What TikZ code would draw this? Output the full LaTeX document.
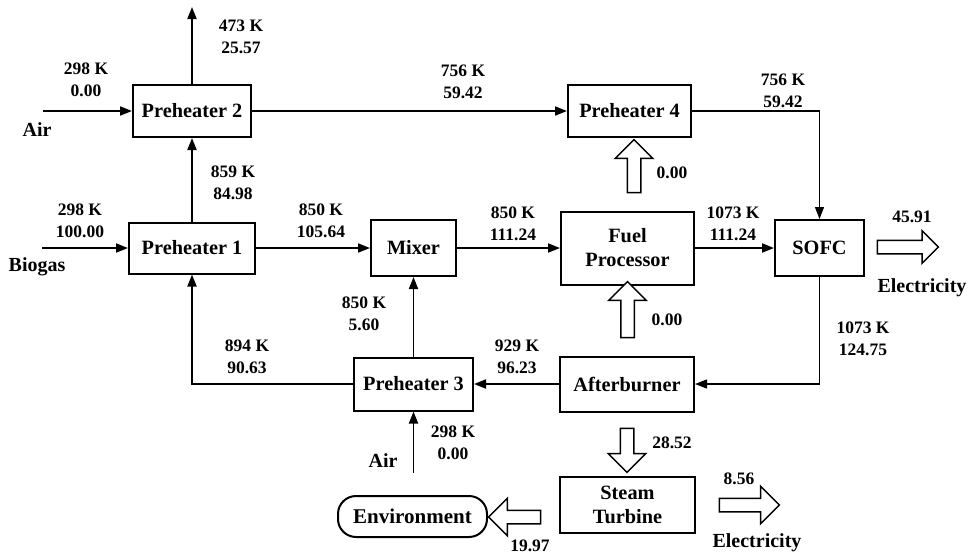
\documentclass[tikz,border=0pt]{standalone}
\usepackage{fontspec}
\setmainfont{Liberation Serif}
\usetikzlibrary{arrows.meta,shapes.arrows}
\begin{document}
\begin{tikzpicture}[x=1pt,y=-1pt,
 box/.style={draw,line width=2pt,align=center,inner sep=0pt,font=\fontsize{20.3}{24}\selectfont\bfseries},
 lbl/.style={align=center,inner sep=0pt,font=\fontsize{17.5}{22}\selectfont\bfseries},
 side/.style={inner sep=0pt,font=\fontsize{20}{24}\selectfont\bfseries},
 flow/.style={line width=1.8pt,-{Triangle[length=12pt,width=9pt]}},
 thinflow/.style={line width=1.3pt,-{Triangle[length=12pt,width=9pt]}},
 barrow/.style={single arrow,draw,line width=1.5pt,fill=white,inner sep=6pt,minimum width=36pt,single arrow head extend=12pt},
]
\useasboundingbox (0,0) rectangle (970,555);

% boxes
\node[box,minimum width=118pt,minimum height=52pt] (ph2) at (192,111) {Preheater 2};
\node[box,minimum width=123pt,minimum height=52pt] (ph4) at (629.5,111) {Preheater 4};
\node[box,minimum width=126pt,minimum height=51pt] (ph1) at (192,248) {Preheater 1};
\node[box,minimum width=85pt,minimum height=56pt] (mix) at (413.5,248) {Mixer};
\node[box,minimum width=133pt,minimum height=73pt] (fp) at (627.5,248) {Fuel\\Processor};
\node[box,minimum width=89pt,minimum height=56pt] (sofc) at (819.5,248) {SOFC};
\node[box,minimum width=119pt,minimum height=53pt] (ph3) at (413.5,384) {Preheater 3};
\node[box,minimum width=134pt,minimum height=55pt] (ab) at (627,384) {Afterburner};
\node[box,minimum width=135pt,minimum height=56pt] (st) at (627.5,505) {Steam\\Turbine};
\node[box,minimum width=149pt,minimum height=41pt,rounded corners=18pt,font=\fontsize{21}{24}\selectfont\bfseries] (env) at (412.5,516.5) {Environment};

% free ends
\coordinate (airA) at (43,111);
\coordinate (exh) at (192,7);
\coordinate (bio) at (42,248);
\coordinate (airB) at (413.5,473);

% connectors
\draw[flow] (airA) -- (ph2);
\draw[flow] (ph2) -- (exh);
\draw[flow] (ph2) -- (ph4);
\draw[thinflow] (ph4.east) -| (sofc.north);
\draw[flow] (ph1) -- (ph2);
\draw[flow] (bio) -- (ph1);
\draw[flow] (ph1) -- (mix);
\draw[flow] (mix) -- (fp);
\draw[flow] (fp) -- (sofc);
\draw[thinflow] (sofc.south) |- (ab.east);
\draw[flow] (ab) -- (ph3);
\draw[flow] (ph3.west) -| (ph1.south);
\draw[flow] (ph3) -- (mix);
\draw[flow] (airB) -- (ph3);

% block arrows
\node[barrow,rotate=90,minimum height=53pt] (b1) at (634,169.5) {};
\node[barrow,rotate=90,minimum height=56pt] (b2) at (627.5,313) {};
\node[barrow,rotate=-90,minimum height=44pt] (b3) at (627,447) {};
\node[barrow,minimum height=61pt,minimum width=31pt,single arrow head extend=9.5pt] (b4) at (904.5,247) {};
\node[barrow,minimum height=60pt] (b5) at (746,505) {};
\node[barrow,rotate=180,minimum height=52pt] (b6) at (518,517) {};

% labels
\node[lbl] at (241,37) {473 K\\25.57};
\node[lbl] at (86,80) {298 K\\0.00};
\node[side] at (37,130) {Air};
\node[lbl] at (233,183) {859 K\\84.98};
\node[lbl] at (463,82) {756 K\\59.42};
\node[lbl] at (783,91) {756 K\\59.42};
\node[lbl] at (672,173) {0.00};
\node[lbl] at (733,224) {1073 K\\111.24};
\node[lbl] at (912,217) {45.91};
\node[side] at (922,288) {Electricity};
\node[lbl] at (667,320) {0.00};
\node[lbl] at (863,339) {1073 K\\124.75};
\node[lbl] at (80,221) {298 K\\100.00};
\node[side] at (37,267) {Biogas};
\node[lbl] at (321,221) {850 K\\105.64};
\node[lbl] at (513,224) {850 K\\111.24};
\node[lbl] at (364,314) {850 K\\5.60};
\node[lbl] at (247,357) {894 K\\90.63};
\node[lbl] at (517,357) {929 K\\96.23};
\node[lbl] at (453,443) {298 K\\0.00};
\node[side] at (383,461) {Air};
\node[lbl] at (672,443) {28.52};
\node[lbl] at (739,479) {8.56};
\node[side] at (757,543) {Electricity};
\node[lbl] at (530,546) {19.97};
\end{tikzpicture}
\end{document}
